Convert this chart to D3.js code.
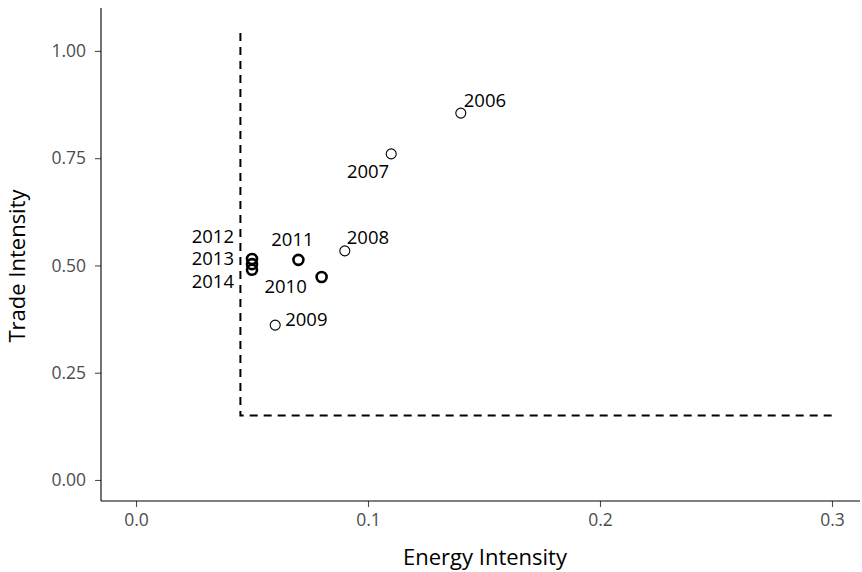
<!DOCTYPE html>
<html>
<head>
<meta charset="utf-8">
<script src="https://cdn.jsdelivr.net/npm/d3@7"></script>
<style>
  html, body { margin: 0; padding: 0; background: #fff; }
  svg text { font-family: "Open Sans", "Noto Sans", sans-serif; }
</style>
</head>
<body>
<svg id="chart" width="862" height="572"></svg>
<script>
// Yearly observations
const years = ["2006", "2007", "2008", "2009", "2010", "2011", "2012", "2013", "2014"];
const energyIntensity = [0.14, 0.11, 0.09, 0.06, 0.08, 0.07, 0.05, 0.05, 0.05];
const tradeIntensity = [0.855, 0.76, 0.534, 0.361, 0.473, 0.513, 0.515, 0.503, 0.49];
// Years drawn more than once in the source series (heavier outline)
const repeatCount = [1, 1, 1, 1, 2, 2, 2, 2, 2];

const xTicks = [0.0, 0.1, 0.2, 0.3];
const yTicks = [0.00, 0.25, 0.50, 0.75, 1.00];

// Threshold lines
const thresholdX = 0.045;
const thresholdY = 0.15;
const thresholdXEnd = 0.3;
const thresholdYEnd = 1.042;

// Label placement (pixel offsets from the point, text anchor)
const labelLayout = {
  "2006": { dx: 3, dy: -6, anchor: "start" },
  "2007": { dx: -2, dy: 24, anchor: "end" },
  "2008": { dx: 2, dy: -7, anchor: "start" },
  "2009": { dx: 10, dy: 1, anchor: "start" },
  "2010": { dx: -36, dy: 16, anchor: "middle" },
  "2011": { dx: -6, dy: -14, anchor: "middle" },
  "2012": { dx: -18, dy: -16, anchor: "end" },
  "2013": { dx: -18, dy: 1, anchor: "end" },
  "2014": { dx: -18, dy: 18, anchor: "end" }
};

const svg = d3.select("#chart");
const plotLeft = 101, plotRight = 860, plotTop = 8, plotBottom = 501;

const x = d3.scaleLinear().domain([-0.01509, 0.31207]).range([plotLeft, plotRight]);
const y = d3.scaleLinear().domain([-0.049, 1.1]).range([plotBottom, plotTop]);

// Axes
const xAxis = d3.axisBottom(x).tickValues(xTicks).tickFormat(d3.format(".1f")).tickSize(6).tickPadding(7);
const yAxis = d3.axisLeft(y).tickValues(yTicks).tickFormat(d3.format(".2f")).tickSize(6).tickPadding(9);

const gx = svg.append("g").attr("transform", `translate(0,${plotBottom})`).call(xAxis);
const gy = svg.append("g").attr("transform", `translate(${plotLeft},0)`).call(yAxis);

[gx, gy].forEach(g => {
  g.select(".domain").remove();
  g.selectAll(".tick line").attr("stroke", "#4d4d4d").attr("stroke-width", 1.1);
  g.selectAll(".tick text").attr("fill", "#4d4d4d").style("font-size", "17.5px");
});

svg.append("line").attr("x1", plotLeft).attr("x2", plotRight).attr("y1", plotBottom).attr("y2", plotBottom)
  .attr("stroke", "#000").attr("stroke-width", 1.1);
svg.append("line").attr("x1", plotLeft).attr("x2", plotLeft).attr("y1", plotTop).attr("y2", plotBottom)
  .attr("stroke", "#000").attr("stroke-width", 1.1);

// Axis titles
svg.append("text").attr("x", 485).attr("y", 565).attr("text-anchor", "middle")
  .style("font-size", "22px").attr("fill", "#000").text("Energy Intensity");
svg.append("text").attr("transform", `translate(25,266) rotate(-90)`)
  .attr("text-anchor", "middle").style("font-size", "22px").attr("fill", "#000").text("Trade Intensity");

// Dashed threshold lines
const dashed = d3.line().x(d => x(d[0])).y(d => y(d[1]));
svg.append("path")
  .attr("d", dashed([[thresholdX, thresholdYEnd], [thresholdX, thresholdY], [thresholdXEnd, thresholdY]]))
  .attr("fill", "none").attr("stroke", "#000").attr("stroke-width", 2)
  .attr("stroke-dasharray", "8,6");

// Points
const data = years.map((yr, i) => ({ year: yr, e: energyIntensity[i], t: tradeIntensity[i], n: repeatCount[i] }));

svg.append("g").selectAll("circle").data(data).join("circle")
  .attr("cx", d => x(d.e)).attr("cy", d => y(d.t)).attr("r", 5)
  .attr("fill", "none").attr("stroke", "#000")
  .attr("stroke-width", d => d.n > 1 ? 2.6 : 1.1);

// Year labels
svg.append("g").selectAll("text").data(data).join("text")
  .attr("x", d => x(d.e) + labelLayout[d.year].dx)
  .attr("y", d => y(d.t) + labelLayout[d.year].dy)
  .attr("text-anchor", d => labelLayout[d.year].anchor)
  .style("font-size", "18.5px").attr("fill", "#000")
  .text(d => d.year);
</script>
</body>
</html>
